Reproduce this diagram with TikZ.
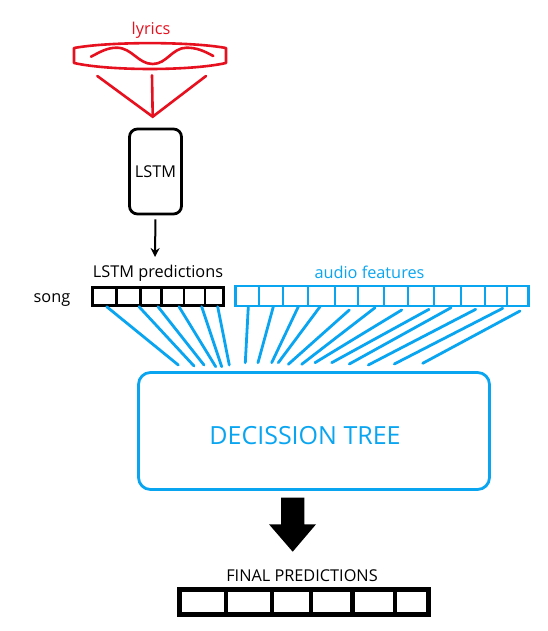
\documentclass[tikz,border=0pt]{standalone}
\usepackage{fontspec}
\usetikzlibrary{arrows.meta}
\setmainfont{Open Sans}
\definecolor{lyr}{HTML}{E6101E}
\definecolor{aud}{HTML}{0AA5F0}
\tikzset{
  x=1pt,y=-1pt,
  lab/.style={inner sep=0pt,font=\fontsize{16.3}{19}\selectfont},
  cellrow/.style={draw,inner sep=0pt,outer sep=0pt,line width=#1},
  feed/.style={aud,line width=2.8pt,line cap=round},
  redline/.style={lyr,line width=2.6pt,line cap=round},
}
\begin{document}
\begin{tikzpicture}
\useasboundingbox (0,0) rectangle (548,631);
% lyrics
\node[lab,text=lyr] (lyricslab) at (151,30.5) {lyrics};
\draw[lyr,line width=2.6pt,line join=round]
  (74,48) .. controls (110,41.5) and (190,41.5) .. (226,48)
  -- (226,63) .. controls (190,71) and (110,71) .. (74,63) -- cycle;
\draw[redline] (91,56.7) .. controls (100,52) and (107,47.7) .. (116.7,47.7)
  .. controls (132,47.7) and (138,64) .. (152.7,64)
  .. controls (167,64) and (172,47.7) .. (186.7,47.7)
  .. controls (197,47.7) and (204,51) .. (213.3,56);
\coordinate (tip) at (152.7,116.7);
\coordinate (vl) at (97.3,76);
\coordinate (vm) at (152,75.3);
\coordinate (vr) at (206,76);
\draw[redline] (vl) -- (tip) -- (vr);
\draw[redline] (vm) -- (tip);
% LSTM
\node[draw,line width=2.8pt,rounded corners=8pt,minimum width=52pt,minimum height=85pt,inner sep=0pt,font=\fontsize{16.3}{19}\selectfont] (lstm) at (155.5,171.5) {\raisebox{-4pt}{LSTM}};
\node[lab] (predlab) at (158,273.5) {LSTM predictions};
\coordinate (predtop) at (155,257);
\draw[line width=2pt,-{Stealth[length=9pt,width=9pt]},shorten <=4pt] (lstm.south) -- (predtop);
\node[lab] (songlab) at (52,300.5) {song};
% LSTM array
\node[cellrow=3pt,minimum width=131pt,minimum height=18pt] (predrow) at (158,296) {};
\foreach \x in {116.7,140.7,161.7,184,205} \draw[line width=2.8pt] (\x,287) -- (\x,305);
% audio array
\node[lab,text=aud] (audlab) at (369.5,272.5) {audio features};
\node[cellrow=2.8pt,color=aud,minimum width=293pt,minimum height=20pt] (audrow) at (382,296) {};
\foreach \x in {259,283,308,335,358,384,408,434,461,485,507} \draw[aud,line width=2.6pt] (\x,286) -- (\x,306);
% decision box
\node[draw=aud,line width=2.8pt,rounded corners=12pt,minimum width=351pt,minimum height=117pt,inner sep=0pt] (tree) at (314,431) {};
\node[inner sep=0pt,text=aud,font=\fontsize{25}{30}\selectfont] (treelab) at (305,435.5) {DECISSION TREE};
% feeds
\foreach \n/\a/\b/\c/\d in {
  1/106.7/306.7/178.3/365, 2/139/306.7/194/366, 3/158/306.7/204/365,
  4/179/306.7/215.7/366.7, 5/201.7/306.7/221.7/366.7, 6/217.7/306.7/229.3/365,
  7/248.3/306.7/245.3/362.7, 8/273.3/306.7/258/362.7, 9/298.3/306.7/271.7/362.7,
  10/320/306.7/278.3/362.7, 11/349.3/310/288.3/364.3, 12/375/307.7/301.7/364.3,
  13/401.7/310/315/362.7, 14/429/309.3/331.7/362.7, 15/451/307.7/349.3/364,
  16/475.7/309.3/368.3/365, 17/502.7/308.3/394.3/364, 18/520/311/422.7/363.3}{
  \coordinate (fa\n) at (\a,\b);
  \coordinate (fb\n) at (\c,\d);
  \draw[feed] (fa\n) -- (fb\n);
}
% big arrow
\fill (281,497.7) -- (304.3,497.7) -- (304.3,524.3) -- (316,524.3) -- (292.7,551.7) -- (269,524.3) -- (281,524.3) -- cycle;
% final
\node[lab] (finallab) at (302,575.5) {FINAL PREDICTIONS};
\node[cellrow=5.4pt,minimum width=249pt,minimum height=25pt] (finalrow) at (303.8,602) {};
\foreach \x in {226,272,311,352.7,395} \draw[line width=4.6pt] (\x,589) -- (\x,615);
\end{tikzpicture}
\end{document}
